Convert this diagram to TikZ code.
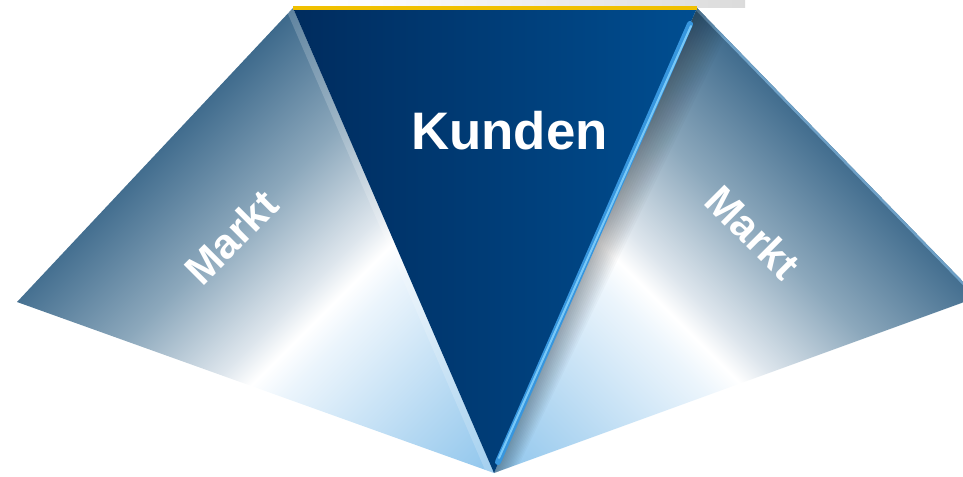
\documentclass[tikz,border=0pt]{standalone}
\usepackage{fontspec}
\setmainfont{Liberation Sans}
\usetikzlibrary{calc}
\definecolor{w0}{RGB}{52,96,130}
\definecolor{w1}{RGB}{62,106,140}
\definecolor{w2}{RGB}{140,168,188}
\definecolor{w3}{RGB}{222,230,237}
\definecolor{w4}{RGB}{236,245,252}
\definecolor{w5}{RGB}{180,216,242}
\definecolor{w6}{RGB}{140,196,236}
\definecolor{w7}{RGB}{130,190,234}
\definecolor{cl}{RGB}{0,44,94}
\definecolor{cr}{RGB}{0,78,145}
\definecolor{gold}{RGB}{240,192,0}
\definecolor{hla}{RGB}{55,150,222}
\definecolor{hlb}{RGB}{120,200,248}
\definecolor{edgel}{RGB}{110,160,198}
\pgfdeclareverticalshading{wingshade}{900bp}{color(0bp)=(w0); color(64bp)=(w1); color(180bp)=(w2); color(272bp)=(w3); color(300bp)=(white); color(330bp)=(w4); color(450bp)=(w5); color(540bp)=(w6); color(600bp)=(w7)}
\tikzset{
  shadenode/.style={inner sep=0pt, outer sep=0pt},
  marktlabel/.style={text=white, inner sep=0pt, font=\bfseries\fontsize{42}{50}\selectfont},
  kundenlabel/.style={text=white, inner sep=0pt, font=\bfseries\fontsize{53}{60}\selectfont},
  shadowstrip/.style={black, opacity=0.022},
}
\begin{document}
\begin{tikzpicture}[x=1bp,y=-1bp]
\useasboundingbox (0,0) rectangle (963,477);
\coordinate (T1) at (293,8);
\coordinate (T2) at (697,8);
\coordinate (A) at (494,473);
\coordinate (L) at (17,302);
\coordinate (R) at (978,297);

% left wing
\begin{scope}
  \clip (T1) -- (L) -- (A) -- cycle;
  \node[shadenode, rotate=-135] (sh1) at (318,318) {\pgfuseshading{wingshade}};
  \draw[white, opacity=0.18, line width=14] (T1) -- (A);
\end{scope}

% right wing
\begin{scope}
  \clip (T2) -- (R) -- (A) -- cycle;
  \node[shadenode, rotate=135] (sh2) at (684,327) {\pgfuseshading{wingshade}};
  \draw[edgel, line width=5] (T2) -- (R);
  \foreach \d in {3,6,...,42} {
    \fill[shadowstrip] (T2) -- (A) -- ($(A)+(\d*0.5,0)$) -- ($(T2)+(\d,0)$) -- cycle;
  }
\end{scope}

% top shadow
\shade[left color=white, right color=black!14] (330,0) rectangle (745,8);

% central triangle
\shade[left color=cl, right color=cr] (T1) -- (T2) -- (A) -- cycle;
\fill[gold] (293,6) rectangle (697,10.5);
\draw[hla, line width=6, line cap=round] (690,24) -- (498,462);
\draw[hlb, line width=2, line cap=round] (691,26) -- (499,458);

% labels
\node[kundenlabel, anchor=base] (kunden) at (509.5,150) {Kunden};
\node[marktlabel, rotate=45] (markt1) at (231,237) {Markt};
\node[marktlabel, rotate=-45] (markt2) at (753,232) {Markt};
\end{tikzpicture}
\end{document}
